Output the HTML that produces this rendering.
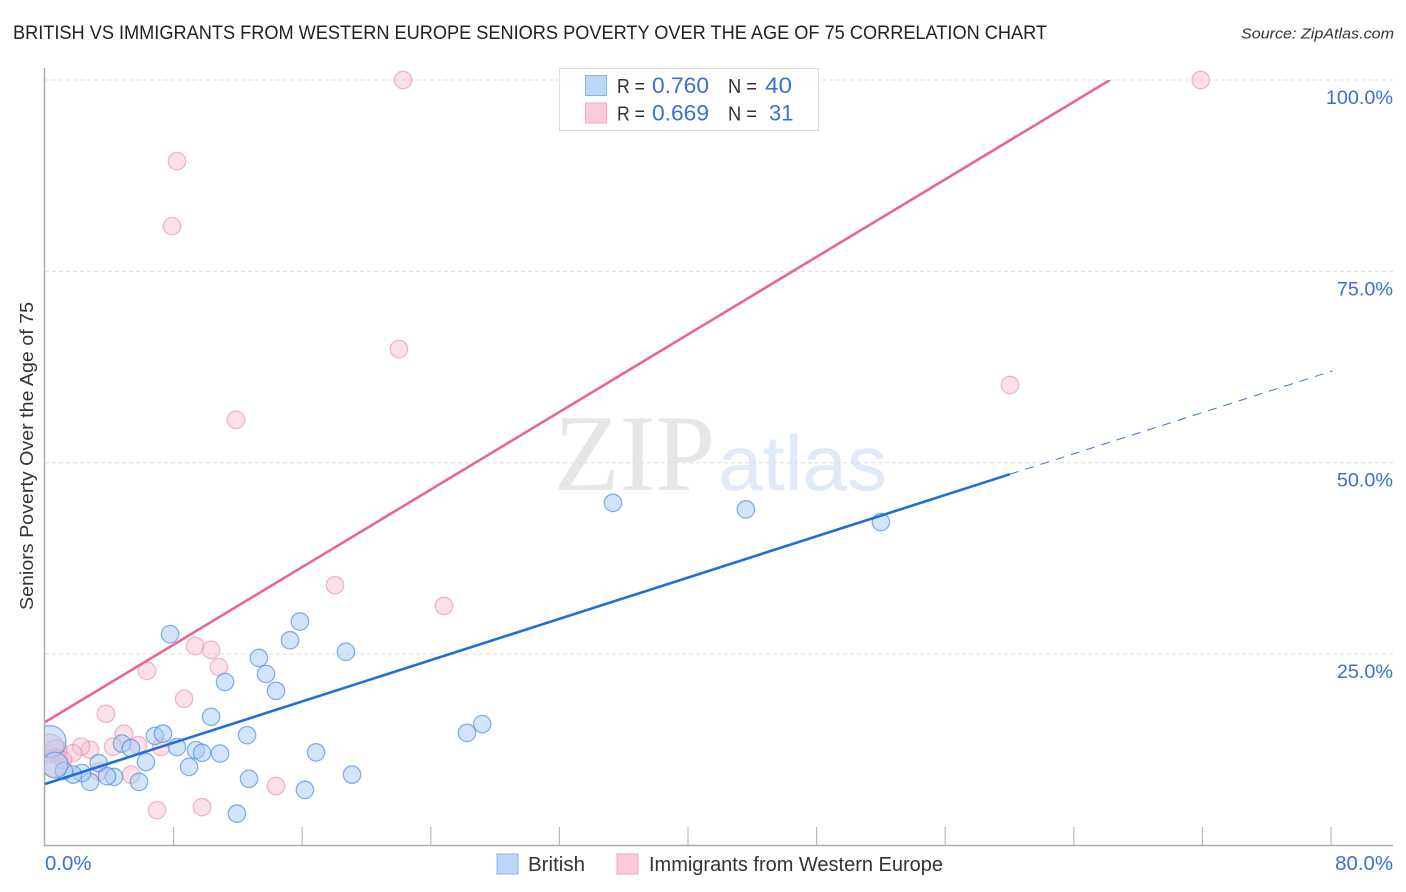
<!DOCTYPE html>
<html lang="en">
<head>
<meta charset="utf-8">
<title>British vs Immigrants from Western Europe Seniors Poverty Correlation Chart</title>
<style>
html,body{margin:0;padding:0;background:#fff;width:1406px;height:892px;overflow:hidden}
svg{display:block}
text{font-family:"Liberation Sans",sans-serif}
</style>
</head>
<body>
<svg id="chart" xmlns="http://www.w3.org/2000/svg" width="1406" height="892" viewBox="0 0 1406 892">
  <defs>
    <clipPath id="plot-clip"><rect x="45" y="68" width="1348" height="777"/></clipPath>
    <clipPath id="pink-trend-clip"><rect x="45" y="80" width="1348" height="765"/></clipPath>
  </defs>
  <text x="13" y="39" font-size="19" fill="#222" textLength="1034" lengthAdjust="spacingAndGlyphs">BRITISH VS IMMIGRANTS FROM WESTERN EUROPE SENIORS POVERTY OVER THE AGE OF 75 CORRELATION CHART</text>
  <text x="1241" y="38.5" font-size="15" font-style="italic" fill="#333" textLength="153" lengthAdjust="spacingAndGlyphs">Source: ZipAtlas.com</text>
  <g>
    <text x="554" y="490" font-size="109" fill="#e6e6e6" style="font-family:'Liberation Serif',serif" textLength="161" lengthAdjust="spacingAndGlyphs">ZIP</text>
    <text x="718" y="490" font-size="78" fill="#dfe9f8" textLength="169" lengthAdjust="spacingAndGlyphs">atlas</text>
  </g>
  <g id="grid"></g>
  <g id="axes"></g>
  <g id="points" clip-path="url(#plot-clip)"></g>
  <g id="trends"></g>
  <g id="labels"></g>
  <text transform="translate(33,456) rotate(-90)" text-anchor="middle" font-size="18.5" fill="#333" textLength="308" lengthAdjust="spacingAndGlyphs">Seniors Poverty Over the Age of 75</text>

  <g>
    <rect x="559.5" y="68.5" width="259" height="62" fill="#fff" fill-opacity="0.88" stroke="#ddd"/>
    <rect x="585.5" y="75.5" width="21" height="20" fill="#bcd6f8" stroke="#8db4e8"/>
    <rect x="585.5" y="103" width="21" height="20" fill="#fccbdb" stroke="#f2a9c0"/>
    <text x="617" y="93" font-size="20" fill="#333" textLength="28" lengthAdjust="spacingAndGlyphs">R =</text>
    <text x="652" y="93" font-size="22" fill="#3a70d0" textLength="57" lengthAdjust="spacingAndGlyphs">0.760</text>
    <text x="728" y="93" font-size="20" fill="#333" textLength="29" lengthAdjust="spacingAndGlyphs">N =</text>
    <text x="765" y="93" font-size="22" fill="#3a70d0" textLength="27" lengthAdjust="spacingAndGlyphs">40</text>
    <text x="617" y="120.5" font-size="20" fill="#333" textLength="28" lengthAdjust="spacingAndGlyphs">R =</text>
    <text x="652" y="120.5" font-size="22" fill="#3a70d0" textLength="57" lengthAdjust="spacingAndGlyphs">0.669</text>
    <text x="728" y="120.5" font-size="20" fill="#333" textLength="29" lengthAdjust="spacingAndGlyphs">N =</text>
    <text x="769" y="120.5" font-size="22" fill="#3a70d0">31</text>
  </g>

  <g>
    <rect x="497" y="854" width="21" height="20" fill="#bcd6f8" stroke="#8db4e8"/>
    <text x="528" y="871" font-size="20" fill="#333" textLength="57" lengthAdjust="spacingAndGlyphs">British</text>
    <rect x="617" y="854" width="21" height="20" fill="#fccbdb" stroke="#f2a9c0"/>
    <text x="649" y="871" font-size="20" fill="#333" textLength="294" lengthAdjust="spacingAndGlyphs">Immigrants from Western Europe</text>
  </g>
</svg>
<script>
const britishX = [7.78,15.86,15.24,18.72,13.31,13.75,11.2,14.37,10.33,12.57,6.84,7.34,4.79,5.35,8.21,9.39,9.77,10.89,16.86,6.28,8.96,3.34,19.1,12.69,5.85,4.29,3.86,2.8,2.3,1.74,1.18,16.17,11.94,0.31,0.62,35.33,43.6,52.0,26.25,27.2];
const britishY = [27.6,29.25,26.8,25.3,24.5,22.4,21.35,20.2,16.8,14.4,14.3,14.6,13.3,12.7,12.85,12.45,12.1,12.0,12.15,10.9,10.25,10.75,9.25,8.7,8.3,8.95,9.05,8.3,9.45,9.25,9.75,7.25,4.15,13.55,10.5,44.75,43.9,42.25,14.7,15.85];
const britishWeight = [1,1,1,1,1,1,1,1,1,1,1,1,1,1,1,1,1,1,1,1,1,1,1,1,1,1,1,1,1,1,1,1,1,3.4,2.2,1,1,1,1,1];
const immigrantsX = [22.27,71.9,40,8.21,7.9,22.02,11.88,60.03,18.04,24.82,9.33,10.33,10.82,6.35,8.65,3.79,4.91,4.23,5.79,7.22,2.8,2.24,1.74,5.35,3.36,14.37,9.77,6.97,0.68,0.31,0.62,1.12];
const immigrantsY = [100,100,100,89.4,80.9,64.85,55.6,60.15,34.0,31.3,26.05,25.55,23.3,22.8,19.15,17.2,14.6,12.9,13.1,12.85,12.5,12.9,12.05,9.25,9.65,7.75,5.0,4.6,12.4,12.7,10.75,11.15];
const immigrantsWeight = [1,1,1,1,1,1,1,1,1,1,1,1,1,1,1,1,1,1,1,1,1,1,1,1,1,1,1,1,1.6,2.6,2.6,1];
const britishTrendX = [0,60.03];
const britishTrendY = [8.02,48.5];
const britishProjectionX = [60.03,80.1];
const britishProjectionY = [48.5,62.0];
const immigrantsTrendX = [0,66.25];
const immigrantsTrendY = [16.1,100];
const xTickValues = [0,8,16,24,32,40,48,56,64,72,80];
const yTickValues = [25,50,75,100];
const yTickLabels = ["25.0%","50.0%","75.0%","100.0%"];
const xEndValues = [0,80];
const xEndLabels = ["0.0%","80.0%"];

const NS = 'http://www.w3.org/2000/svg';
const xScale = v => 45 + v * 16.075;
const yScale = v => 845.4 - v * 7.654;
const sizeScale = w => 8.7 * Math.sqrt(w);

function make(tag, attrs, parent) {
  const el = document.createElementNS(NS, tag);
  for (const k in attrs) el.setAttribute(k, attrs[k]);
  parent.appendChild(el);
  return el;
}

const grid = document.getElementById('grid');
yTickValues.forEach(v => {
  const line = make('line', {x1: 45, x2: 1393, y1: yScale(v), y2: yScale(v), stroke: '#ddd', 'stroke-width': 1, 'stroke-dasharray': '4 3'}, grid);
  
  
});

const axes = document.getElementById('axes');
const yAxis = make('line', {x1: 44.5, x2: 44.5, y1: 68, y2: 846, stroke: '#aaa', 'stroke-width': 1.5}, axes);


const xAxis = make('line', {x1: 44, x2: 1393, y1: 845.5, y2: 845.5, stroke: '#aaa', 'stroke-width': 1.5}, axes);


xTickValues.slice(1).forEach(v => {
  const tick = make('line', {x1: xScale(v), x2: xScale(v), y1: 827, y2: 845, stroke: '#bbb', 'stroke-width': 1.2}, axes);
  
  
});

const labels = document.getElementById('labels');
yTickValues.forEach((v, i) => {
  const t = make('text', {x: 1393, y: yScale(v) + 24, 'text-anchor': 'end', 'font-size': 19.8, fill: '#3a70d0'}, labels);
  
  
  t.textContent = yTickLabels[i];
});
xEndValues.forEach((v, i) => {
  const t = make('text', {x: i === 0 ? xScale(v) : 1393, y: 870, 'text-anchor': i === 0 ? 'start' : 'end', 'font-size': 20.4, fill: '#3a70d0'}, labels);
  
  
  t.textContent = xEndLabels[i];
});

const points = document.getElementById('points');
immigrantsX.forEach((v, i) => {
  const c = make('circle', {cx: xScale(v), cy: yScale(immigrantsY[i]), r: sizeScale(immigrantsWeight[i]), fill: '#f9b8cd', 'fill-opacity': 0.42, stroke: '#ea8aa9', 'stroke-opacity': 0.6, 'stroke-width': 1.3}, points);
  
  
});
britishX.forEach((v, i) => {
  const c = make('circle', {cx: xScale(v), cy: yScale(britishY[i]), r: sizeScale(britishWeight[i]), fill: '#a9cbf3', 'fill-opacity': 0.52, stroke: '#4d8ad8', 'stroke-opacity': 0.65, 'stroke-width': 1.3}, points);
  
  
});

const trends = document.getElementById('trends');
const blueLine = make('line', {x1: xScale(britishTrendX[0]), y1: yScale(britishTrendY[0]), x2: xScale(britishTrendX[1]), y2: yScale(britishTrendY[1]), stroke: '#1f6fd8', 'stroke-width': 2.6}, trends);


const blueDash = make('line', {x1: xScale(britishProjectionX[0]), y1: yScale(britishProjectionY[0]), x2: xScale(britishProjectionX[1]), y2: yScale(britishProjectionY[1]), stroke: '#3f78cc', 'stroke-width': 1, 'stroke-dasharray': '9 7'}, trends);


const pinkLine = make('line', {x1: xScale(immigrantsTrendX[0]), y1: yScale(immigrantsTrendY[0]), x2: xScale(immigrantsTrendX[1]), y2: yScale(immigrantsTrendY[1]), stroke: '#e8668f', 'stroke-width': 2.6, 'clip-path': 'url(#pink-trend-clip)'}, trends);


</script>
</body>
</html>
